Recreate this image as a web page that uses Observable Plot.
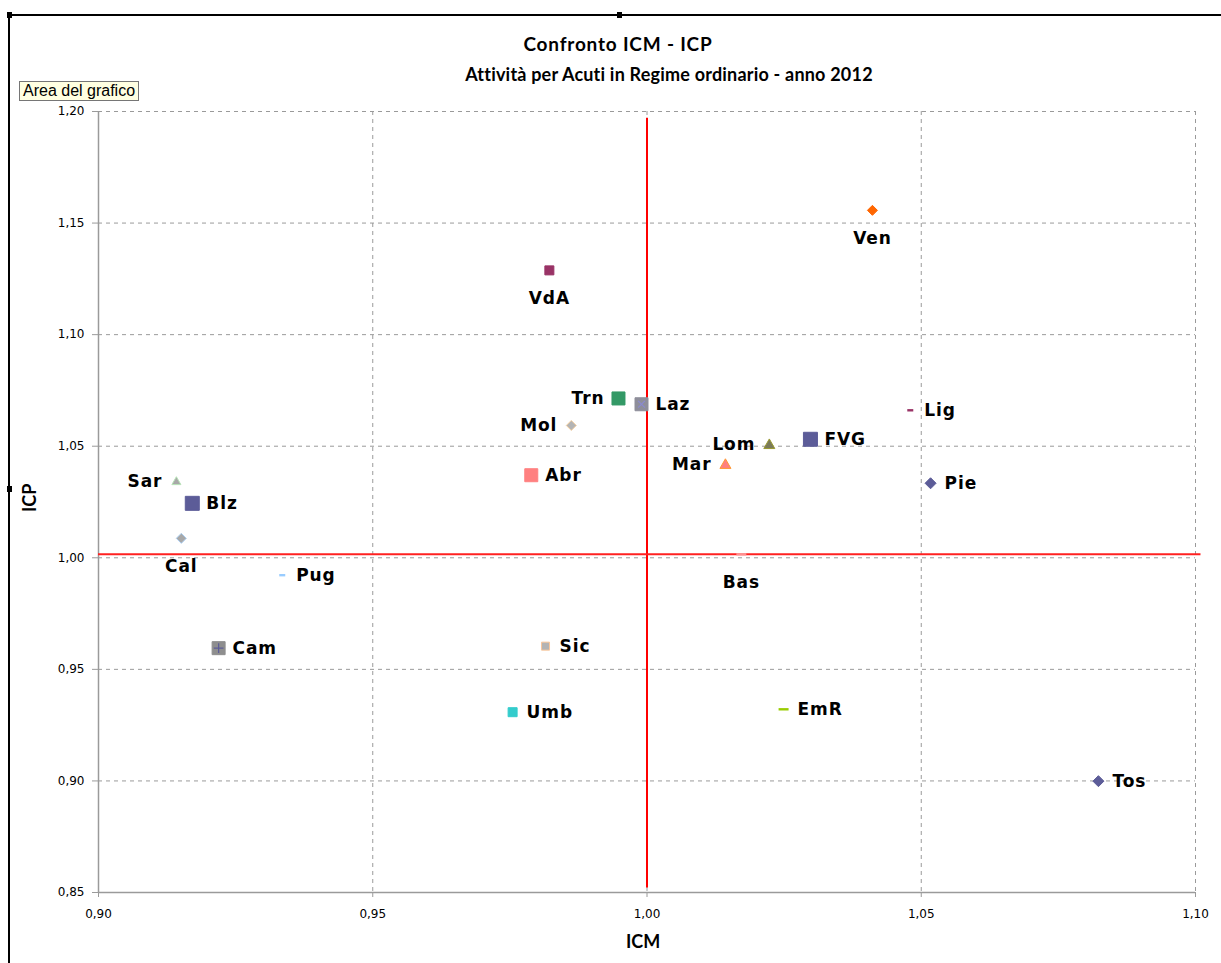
<!DOCTYPE html>
<html>
<head>
<meta charset="utf-8">
<script src="https://cdn.jsdelivr.net/npm/d3@7"></script>
<script src="https://cdn.jsdelivr.net/npm/@observablehq/plot@0.6"></script>
<style>
  body { margin: 0; background: #fff; }
  #chart { position: relative; width: 1221px; height: 963px; overflow: hidden; background: #fff; }
  #chart svg { position: absolute; left: 0; top: 0; }
  #chart svg g[aria-label="text"] text { letter-spacing: 0.9px; }
  .frame { position: absolute; left: 8px; top: 14px; right: -10px; bottom: -10px; border-left: 2px solid #000; border-top: 2px solid #000; }
  .handle { position: absolute; width: 5px; height: 6px; background: #000; }
  .title { position: absolute; width: 800px; text-align: center; font-family: Lato, "Open Sans", sans-serif; font-weight: bold; color: #000; white-space: nowrap; }
  .tip { position: absolute; left: 19px; top: 81px; padding: 0 3px; background: #ffffe1; border: 1px solid #767676; font-family: "Liberation Sans", Arial, sans-serif; font-size: 16px; color: #000; line-height: 18px; }
  .axis-title { position: absolute; font-family: Lato, "Open Sans", sans-serif; font-weight: bold; font-size: 18px; color: #000; }
</style>
</head>
<body>
<div id="chart">
  <div class="frame"></div>
  <div class="handle" style="left:7px;top:12px"></div>
  <div class="handle" style="left:617px;top:12px"></div>
  <div class="handle" style="left:7px;top:486px"></div>
  <div class="title" style="left:218px;top:32px;font-size:19px;letter-spacing:0.8px">Confronto ICM - ICP</div>
  <div class="title" style="left:269px;top:63px;font-size:18px;letter-spacing:0.2px">Attività per Acuti in Regime ordinario - anno 2012</div>
  <div class="tip">Area del grafico</div>
  <div class="axis-title" style="left:626px;top:930px">ICM</div>
  <div class="axis-title" style="left:18px;top:512px;transform:rotate(-90deg);transform-origin:left top">ICP</div>
</div>
<script>
// Regional case-mix index (ICM) and comparative performance index (ICP), 2012
const regions = ["Sar", "Blz", "Cal", "Pug", "Cam", "Umb", "Sic", "Abr", "Mol", "Trn", "Laz",
                 "VdA", "Ven", "Lig", "Lom", "FVG", "Mar", "Pie", "Bas", "EmR", "Tos"];
const icm = [0.9142, 0.9171, 0.9151, 0.9335, 0.9219, 0.9755, 0.9815, 0.9789, 0.9862, 0.9948, 0.9990,
             0.9822, 1.0411, 1.0480, 1.0223, 1.0298, 1.0143, 1.0517, 1.0172, 1.0249, 1.0823];
const icp = [1.0343, 1.0244, 1.0087, 0.9922, 0.9595, 0.9308, 0.9604, 1.0370, 1.0593, 1.0714, 1.0688,
             1.1288, 1.1557, 1.0661, 1.0508, 1.0531, 1.0419, 1.0334, 1.0016, 0.9321, 0.8999];

// Reference lines: national value of each index
const refIcm = 1.00, refIcmSpan = [0.852, 1.197];
const refIcp = 1.0016, refIcpSpan = [0.90, 1.101];

// Axis ticks
const xTicks = [0.90, 0.95, 1.00, 1.05, 1.10];
const yTicks = [0.85, 0.90, 0.95, 1.00, 1.05, 1.10, 1.15, 1.20];

// Marker style for each regional series
const markerStyle = {
  Sar: {shape: "triangle", fill: "#a8a8a8", stroke: "#b6e3b6", r: 4.5},
  Blz: {shape: "square",   fill: "#5c5c98", stroke: "#5c5c98", r: 7},
  Cal: {shape: "diamond",  fill: "#a8a8a8", stroke: "#a9cdf0", r: 5},
  Pug: {shape: "dash",     fill: "#99ccff", stroke: "none",    r: 3},
  Cam: {shape: "square",   fill: "#8e8e8e", stroke: "#8e8e8e", r: 6.5, cross: "plus",  crossColor: "#5c5c98"},
  Umb: {shape: "square",   fill: "#33cccc", stroke: "#33cccc", r: 4.5},
  Sic: {shape: "square",   fill: "#b4b4b4", stroke: "#fac79b", r: 4},
  Abr: {shape: "square",   fill: "#ff8080", stroke: "#ff8080", r: 6.5},
  Mol: {shape: "diamond",  fill: "#b4b4b4", stroke: "#f5cfa0", r: 5},
  Trn: {shape: "square",   fill: "#339966", stroke: "#339966", r: 6.5},
  Laz: {shape: "square",   fill: "#8e8e9a", stroke: "#8e8e9a", r: 6.5, cross: "times", crossColor: "#8a8ad0"},
  VdA: {shape: "square",   fill: "#993366", stroke: "#993366", r: 4.5},
  Ven: {shape: "diamond",  fill: "#ff6600", stroke: "#ff6600", r: 5},
  Lig: {shape: "dash",     fill: "#993366", stroke: "none",    r: 3},
  Lom: {shape: "triangle", fill: "#7a7a5a", stroke: "#9a9a30", r: 5.5},
  FVG: {shape: "square",   fill: "#5c5c98", stroke: "#5c5c98", r: 7},
  Mar: {shape: "triangle", fill: "#ff8080", stroke: "#ff9933", r: 5.5},
  Pie: {shape: "diamond",  fill: "#5c5c98", stroke: "#5c5c98", r: 5.5},
  Bas: {shape: "dash",     fill: "#ff9090", stroke: "none",    r: 5},
  EmR: {shape: "dash",     fill: "#99cc00", stroke: "none",    r: 5},
  Tos: {shape: "diamond",  fill: "#5c5c98", stroke: "#5c5c98", r: 5.5}
};

// Which side of its marker each region name sits on
const labelSide = {
  Sar: "left", Blz: "right", Cal: "below", Pug: "right", Cam: "right", Umb: "right", Sic: "right",
  Abr: "right", Mol: "left", Trn: "left", Laz: "right", VdA: "below", Ven: "below", Lig: "right",
  Lom: "left", FVG: "right", Mar: "left", Pie: "right", Bas: "below", EmR: "right", Tos: "right"
};

const points = regions.map((name, i) => ({name, icm: icm[i], icp: icp[i], ...markerStyle[name]}));

// Custom marker shapes; r is the half-width in pixels
const radius = size => Math.sqrt(size / Math.PI);
const shapes = {
  square: {draw(c, size) { const r = radius(size); c.rect(-r, -r, 2 * r, 2 * r); }},
  diamond: {draw(c, size) { const r = radius(size); c.moveTo(0, -r); c.lineTo(r, 0); c.lineTo(0, r); c.lineTo(-r, 0); c.closePath(); }},
  triangle: {draw(c, size) { const r = radius(size); c.moveTo(0, -r); c.lineTo(r, r * 0.75); c.lineTo(-r, r * 0.75); c.closePath(); }},
  dash: {draw(c, size) { const r = radius(size); c.rect(-r, -1.2, 2 * r, 2.4); }}
};

const comma = d => d.toFixed(2).replace(".", ",");
const gridStyle = {stroke: "#9a9a9a", strokeOpacity: 1, strokeDasharray: "4,4", strokeWidth: 1};

const markerMarks = Object.keys(shapes).map(shape =>
  Plot.dot(points.filter(d => d.shape === shape), {
    x: "icm", y: "icp", symbol: shapes[shape], r: "r",
    fill: "fill", stroke: "stroke", strokeWidth: 1
  })
);

const crossMarks = ["plus", "times"].map(cross =>
  Plot.dot(points.filter(d => d.cross === cross), {
    x: "icm", y: "icp", symbol: cross, r: 3.2, stroke: "crossColor", strokeWidth: 1.2
  })
);

const labelOpts = {
  left:  {textAnchor: "end", dx: -14},
  right: {textAnchor: "start", dx: 14},
  below: {textAnchor: "middle", dy: 28}
};
const labelMarks = Object.keys(labelOpts).map(side =>
  Plot.text(points.filter(d => labelSide[d.name] === side), {
    x: "icm", y: "icp", text: "name", ...labelOpts[side],
    fontFamily: "DejaVu Sans", fontWeight: "bold", fontSize: 17, fill: "#000"
  })
);

const chart = Plot.plot({
  width: 1221,
  height: 963,
  marginLeft: 98,
  marginRight: 26,
  marginTop: 111,
  marginBottom: 71,
  style: {background: "transparent", overflow: "visible"},
  x: {domain: [0.90, 1.10]},
  y: {domain: [0.85, 1.20]},
  color: {type: "identity"},
  r: {type: "identity"},
  marks: [
    Plot.gridY(yTicks.filter(t => t > 0.85), gridStyle),
    Plot.gridX(xTicks.filter(t => t > 0.90), gridStyle),
    Plot.ruleX([0.90], {stroke: "#9a9a9a", strokeWidth: 1.5}),
    Plot.ruleY([0.85], {stroke: "#9a9a9a", strokeWidth: 1.5}),
    Plot.axisY(yTicks, {tickSize: 6, tickPadding: 8, tickFormat: comma, stroke: "#9a9a9a",
      fill: "#000", fontFamily: "DejaVu Sans", fontSize: 12, label: null}),
    Plot.axisX(xTicks, {tickSize: 5, tickPadding: 12, tickFormat: comma, stroke: "#9a9a9a",
      fill: "#000", fontFamily: "DejaVu Sans", fontSize: 12, label: null}),
    Plot.ruleX([refIcm], {y1: refIcmSpan[0], y2: refIcmSpan[1], stroke: "#ff0000", strokeWidth: 2}),
    Plot.ruleY([refIcp], {x1: refIcpSpan[0], x2: refIcpSpan[1], stroke: "#ff2020", strokeWidth: 2}),
    ...markerMarks,
    ...crossMarks,
    ...labelMarks
  ]
});

document.getElementById("chart").prepend(chart);
</script>
</body>
</html>
